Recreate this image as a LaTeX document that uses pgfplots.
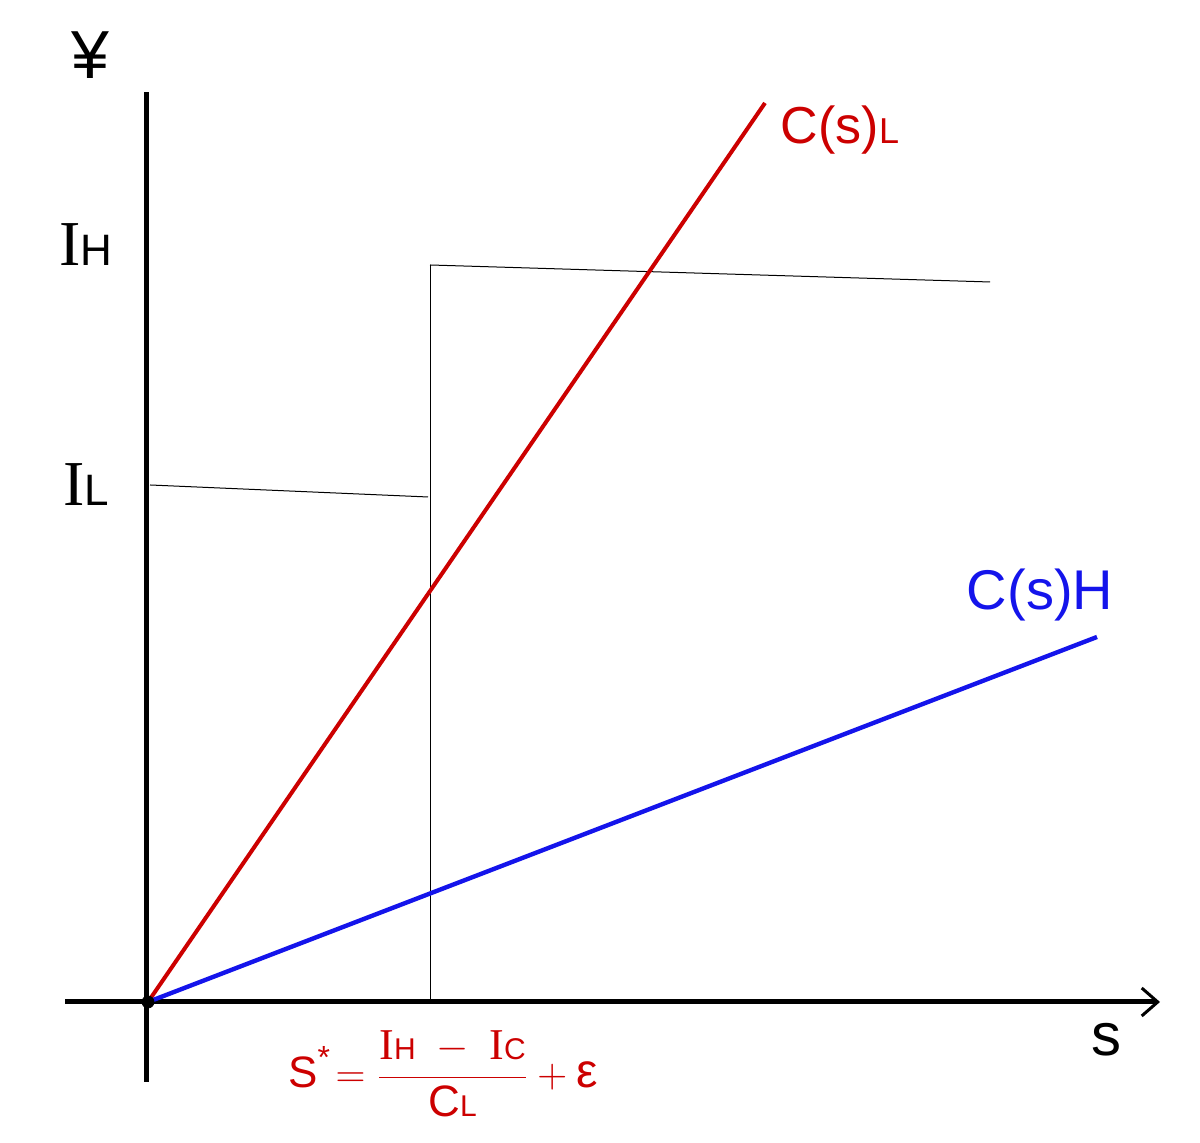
\documentclass[border=0pt]{standalone}
\usepackage{fontspec}
\setmainfont{Liberation Sans}
\newfontfamily\serifI{Liberation Serif}
\usepackage{pgfplots}
\pgfplotsset{compat=1.18}
\usetikzlibrary{arrows.meta}
\definecolor{cred}{RGB}{204,0,0}
\definecolor{cblue}{RGB}{20,20,235}
\begin{document}
\begin{tikzpicture}
\begin{axis}[
  width=600pt, height=571.5pt, scale only axis,
  xmin=-148, xmax=1052, ymin=-141, ymax=1002,
  hide axis, clip=false,
]
% axes
\addplot[black, line width=2.5pt, -{Straight Barb[length=8pt,width=14pt,line width=1.5pt]}] coordinates {(-83,0) (1012,0)};
\addplot[black, line width=2.5pt] coordinates {(-2,-80) (-2,910)};
% guide lines
\addplot[black, line width=0.5pt] coordinates {(282,0) (282,737)};
\addplot[black, line width=0.5pt] coordinates {(282,737) (842,720)};
\addplot[black, line width=0.5pt] coordinates {(2,517) (280,505)};
% cost lines
\addplot[cred, line width=2pt] coordinates {(0,0) (617,899)};
\addplot[cblue, line width=2.2pt] coordinates {(0,0) (949,365)};
\addplot[black, only marks, mark=*, mark size=3pt] coordinates {(0,0)};
% labels
\node at (axis cs:-58,947) {\fontsize{34}{34}\selectfont ¥};
\node at (axis cs:-62,757) {{\serifI\fontsize{32}{32}\selectfont I}\fontsize{22}{22}\selectfont H};
\node at (axis cs:-62,517) {{\serifI\fontsize{32}{32}\selectfont I}\fontsize{22}{22}\selectfont L};
\node[cred] at (axis cs:692,872) {\fontsize{26}{26}\selectfont C(s)\fontsize{18}{18}\selectfont L};
\node[cblue] at (axis cs:892,407) {\fontsize{28}{28}\selectfont C(s)H};
\node at (axis cs:958,-38) {\fontsize{30}{30}\selectfont s};
\node[cred] at (axis cs:295,-72) {\fontsize{22}{26}\selectfont $\displaystyle \mbox{S}^{\mbox{\fontsize{16}{16}\selectfont *}}\!=\frac{\mbox{{\serifI I}\fontsize{15}{15}\selectfont H}\;-\;\mbox{{\serifI I}\fontsize{15}{15}\selectfont C}}{\mbox{C\fontsize{15}{15}\selectfont L}}+\mbox{\fontsize{24}{24}\selectfont ε}$};
\end{axis}
\pgfresetboundingbox
\path (current axis.south west) rectangle (current axis.north east);
\end{tikzpicture}
\end{document}
